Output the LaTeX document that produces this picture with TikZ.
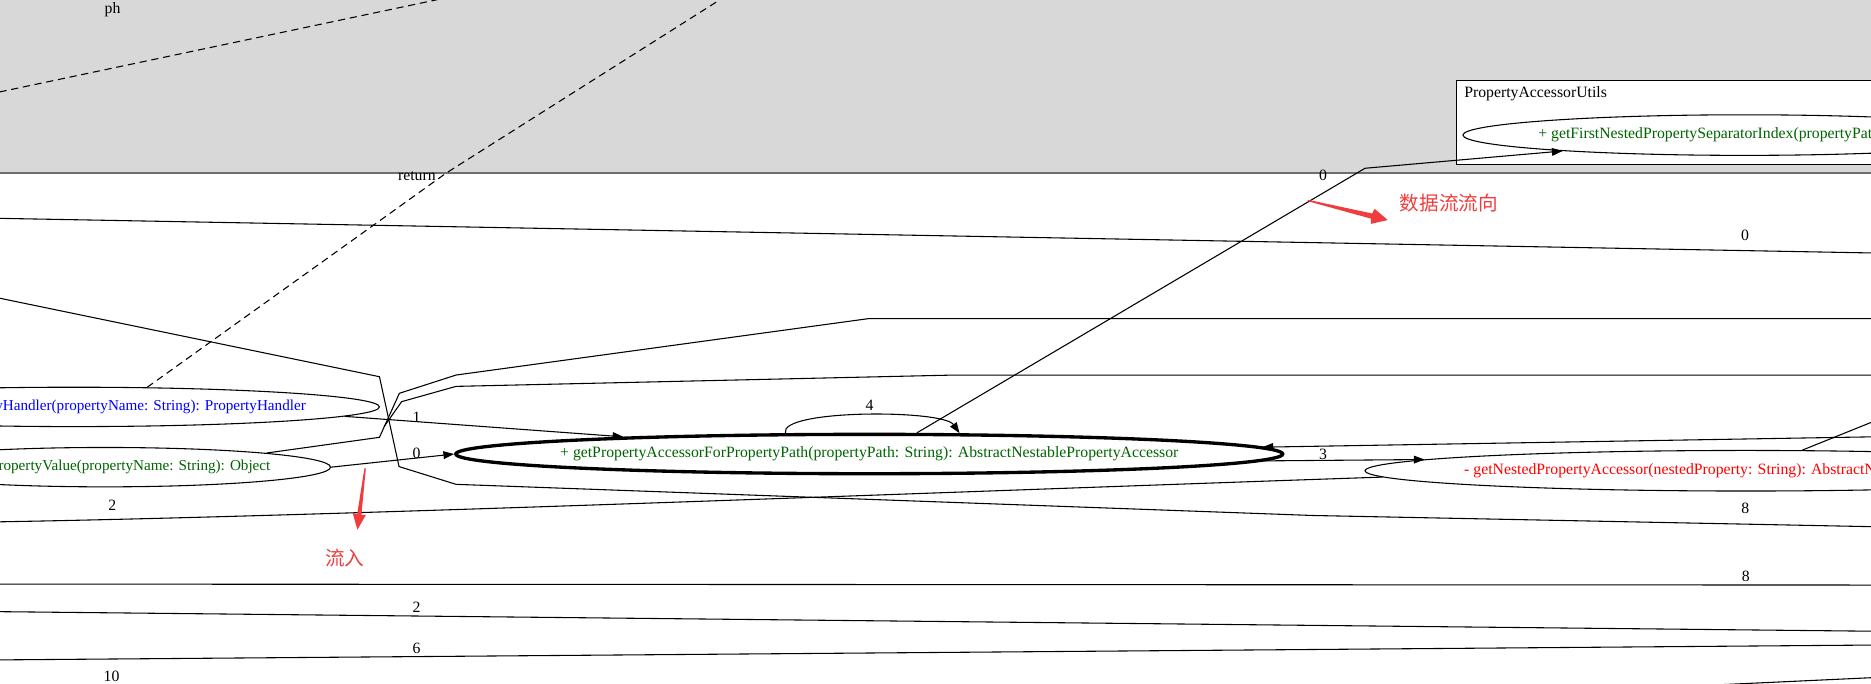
\documentclass[tikz,border=0pt]{standalone}
\usepackage{fontspec}
\setmainfont{Liberation Serif}
\newfontfamily\cjkfont{Noto Sans CJK SC}
\usetikzlibrary{arrows.meta,shapes.geometric}

\definecolor{bggray}{RGB}{216,216,216}
\definecolor{bordergray}{RGB}{110,110,110}
\definecolor{pgreen}{RGB}{0,100,0}
\definecolor{pblue}{RGB}{0,0,255}
\definecolor{pred}{RGB}{255,0,0}
\definecolor{annored}{RGB}{240,60,60}

\tikzset{
  conn/.style={draw=black, line width=0.9pt},
  arrconn/.style={conn, -{Triangle[length=9pt,width=6.5pt]}},
  dashconn/.style={conn, dash pattern=on 6pt off 4pt},
  meth/.style={draw=black, line width=0.9pt, ellipse, inner sep=0pt, fill=white},
  lbl/.style={font=\fontsize{13.2}{15}\selectfont, inner sep=0pt},
  lblsmall/.style={font=\fontsize{12.7}{15}\selectfont, inner sep=0pt},
  anno/.style={font=\cjkfont\fontsize{16.4}{18}\selectfont, text=annored, inner sep=0pt},
  annoarrow/.style={fill=annored, draw=none},
}

\begin{document}
\begin{tikzpicture}[x=1pt,y=-1pt]
\useasboundingbox (0,0) rectangle (1568,573);
\clip (0,0) rectangle (1568,573);

% gray cluster area
\fill[bggray] (-10,-10) rectangle (1580,145);
\draw[bordergray, line width=1.3pt] (-10,145) -- (1580,145);

% PropertyAccessorUtils box
\node[draw=black, fill=white, line width=0.9pt, anchor=north west, minimum width=500pt, minimum height=70.5pt, inner sep=0pt] (pau) at (1220,67) {};
\node[lbl, anchor=west] (pautitle) at (1227,78.5) {PropertyAccessorUtils};

% method ellipses
\node[meth, minimum width=472pt, minimum height=34pt] (fn) at (1462,113.2) {};
\node[lbl, text=pgreen, anchor=west] (fntext) at (1289,113.2) {+ getFirstNestedPropertySeparatorIndex(propertyPat};

\node[meth, minimum width=512pt, minimum height=33pt] (ph) at (62,341) {};
\node[lblsmall, text=pblue, anchor=east] (phtext) at (256.5,341) {yHandler(propertyName: String): PropertyHandler};

\node[meth, minimum width=378pt, minimum height=33pt] (pv) at (88,391.5) {};
\node[lblsmall, text=pgreen, anchor=east] (pvtext) at (226.8,391.5) {ropertyValue(propertyName: String): Object};

\node[meth, minimum width=693pt, minimum height=33pt, line width=2.8pt] (main) at (728.5,380.5) {};
\node[lbl, text=pgreen] (maintext) at (main.center) {+ getPropertyAccessorForPropertyPath(propertyPath: String): AbstractNestablePropertyAccessor};

\node[meth, minimum width=638pt, minimum height=34pt] (np) at (1463,394.5) {};
\node[lbl, text=pred, anchor=west] (nptext) at (1226.9,394.5) {- getNestedPropertyAccessor(nestedProperty: String): AbstractN};

% free ends
\coordinate (dA1) at (-20,81.2);
\coordinate (dA2) at (385,-4.2);
\coordinate (retB) at (374,145);
\coordinate (dB) at (622,-12);
\coordinate (e1a) at (-10,182.8);
\coordinate (e1b) at (1580,212.2);
\coordinate (lbA) at (-10,247.9);
\coordinate (lbB) at (1580,441.6);
\coordinate (pB) at (1580,267);
\coordinate (qB) at (1580,314.3);
\coordinate (rA) at (1580,365.9);
\coordinate (rB) at (1580,349.2);
\coordinate (laL) at (0,437.3);
\coordinate (b8a) at (-10,489.5);
\coordinate (b8b) at (1580,490.3);
\coordinate (b2a) at (-10,512.5);
\coordinate (b2b) at (1580,529.1);
\coordinate (b6a) at (-10,553.1);
\coordinate (b6b) at (1580,540.5);
\coordinate (brA) at (1440,573.9);
\coordinate (brB) at (1580,567.4);

% dashed lines
\draw[dashconn] (dA1) -- (dA2);
\draw[dashconn] (ph.15.5) -- (retB) -- (dB);

% long edges
\draw[conn] (e1a) -- (e1b);
\draw[conn] (lbA) -- (318,315.7) -- (334.4,391) -- (382.2,405.9) -- (1100,432) -- (lbB);
\draw[conn] (pv.5.73) -- (318,366.5) -- (334.7,329.6) -- (382.2,314.3) -- (728,267) -- (pB);
\draw[conn] (321.8,357.6) -- (336.6,336.6) -- (382.2,323.8) -- (800,314.3) -- (qB);
\draw[arrconn] (rA) -- (main.1.34);
\draw[conn] (rB) -- (np.20.3);

% edges around main
\draw[arrconn] (ph.-2.72) -- (main.176.72);
\draw[arrconn] (pv.east) -- (main.180.9);
\draw[arrconn] (main.-1.1) -- (np.178.93);
\draw[arrconn] (main.166.06) .. controls +(-6,-20) and +(-14,-20) .. (main.13.95);
\draw[arrconn] (main.24.46) -- (1144,141) -- (fn.185.09);
\draw[arrconn] (np.181.59) .. controls (800,412) and (300,432) .. (laL) .. controls (-30,440) and (-22,418) .. (pv.189.84);

% bottom edges
\draw[conn] (b8a) -- (b8b);
\draw[conn] (b2a) -- (b2b);
\draw[conn] (b6a) -- (b6b);
\draw[conn] (brA) -- (brB);

% labels
\node[lbl] (lph) at (94.3,8.4) {ph};
\node[lbl] (lret) at (349.4,148) {return};
\node[lbl] (lpau) at (1108.7,146.7) {0};
\node[lbl] (le1) at (1462.5,197) {0};
\node[lbl] (l4) at (728.8,339.4) {4};
\node[lbl] (l1) at (349.2,349.8) {1};
\node[lbl] (l0) at (349,380) {0};
\node[lbl] (l3) at (1108.8,380.5) {3};
\node[lbl] (l2a) at (94.2,423.2) {2};
\node[lbl] (l8a) at (1462.6,425.8) {8};
\node[lbl] (l8b) at (1463,482.7) {8};
\node[lbl] (l2b) at (349,509) {2};
\node[lbl] (l6) at (349,543) {6};
\node[lbl] (l10) at (93.5,566.5) {10};

% annotations
\begin{scope}[shift={(1096,168)}, rotate=-13.75]
  \fill[annoarrow] (0,-0.6) -- (55,-2.2) -- (56,-6.5) -- (69,0) -- (56,6.5) -- (55,2.2) -- (0,0.6) -- cycle;
\end{scope}
\node[anno, anchor=west] (annoflow) at (1173,170) {数据流流向};

\begin{scope}[shift={(306,392.5)}, rotate=-97.2]
  \fill[annoarrow] (0,-0.6) -- (39,-1.8) -- (38.5,-5.6) -- (51.9,0) -- (38.5,5.6) -- (39,1.8) -- (0,0.6) -- cycle;
\end{scope}
\node[anno] (annoin) at (289,467.7) {流入};

\end{tikzpicture}
\end{document}
